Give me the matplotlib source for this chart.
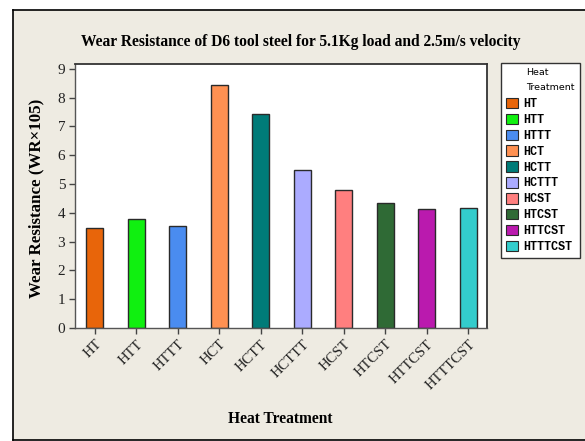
import matplotlib
matplotlib.use('Agg')
import matplotlib.pyplot as plt
from matplotlib.patches import Rectangle, Patch
from matplotlib.lines import Line2D
from matplotlib.offsetbox import HPacker, DrawingArea

# data
treatments = ['HT', 'HTT', 'HTTT', 'HCT', 'HCTT', 'HCTTT', 'HCST', 'HTCST', 'HTTCST', 'HTTTCST']
wear_res = [3.47, 3.78, 3.55, 8.43, 7.43, 5.49, 4.78, 4.34, 4.14, 4.18]
bar_colors = ['#E8650A', '#10F010', '#4A8CF0', '#FF9152', '#007B78',
              '#ABABFF', '#FF7F7F', '#2F6A35', '#BA1AAE', '#33CCCC']
y_ticks = list(range(0, 10))

W, H = 585, 441
fig = plt.figure(figsize=(W / 100, H / 100), dpi=100, facecolor='white')

# beige panel with a black frame on left / top / bottom
bg = '#EEEBE2'
fig.patches.append(Rectangle((13 / W, 1 - 440 / H), 2, (440 - 10) / H,
                             transform=fig.transFigure, facecolor=bg,
                             edgecolor='none', zorder=-5))
for xs, ys in [([13 / W, 13 / W], [1 - 440 / H, 1 - 10 / H]),
               ([13 / W, 1], [1 - 10 / H, 1 - 10 / H]),
               ([13 / W, 1], [1 - 440 / H, 1 - 440 / H])]:
    fig.add_artist(Line2D(xs, ys, transform=fig.transFigure, color='black', lw=1.2, zorder=-4))

ax = fig.add_axes([75 / W, 1 - 328 / H, (487 - 75) / W, (328 - 64) / H])
ax.set_zorder(1)
ax.set_facecolor('white')

pos = list(range(len(treatments)))
ax.bar(pos, wear_res, width=0.41, color=bar_colors, edgecolor='#2a2a2a', linewidth=1.0, zorder=2)

ax.set_xlim(-0.48, 9.45)
ax.set_ylim(0, 9.17)
ax.set_yticks(y_ticks)
ax.set_xticks(pos)

serif = 'Liberation Serif'
ax.set_yticklabels([str(t) for t in y_ticks], fontfamily=serif, fontsize=11, color='#222222')
ax.set_xticklabels(treatments, rotation=45, ha='right', va='top', rotation_mode='anchor',
                   fontfamily=serif, fontsize=10.5, color='#222222')
ax.tick_params(axis='both', direction='out', length=4, width=1, color='#444444', pad=3)

for s in ['left', 'bottom']:
    ax.spines[s].set_color('#555555')
    ax.spines[s].set_linewidth(1.0)
for s in ['top', 'right']:
    ax.spines[s].set_color('#333333')
    ax.spines[s].set_linewidth(1.3)

fig.text(301 / W, 1 - 42 / H,
         'Wear Resistance of D6 tool steel for 5.1Kg load and 2.5m/s velocity',
         ha='center', va='center', fontfamily=serif, fontweight='bold', fontsize=11.2)
fig.text(280 / W, 1 - 419 / H, 'Heat Treatment', ha='center', va='center',
         fontfamily=serif, fontweight='bold', fontsize=11.2)
fig.text(36 / W, 1 - 198 / H, 'Wear Resistance (WR\u00d7105)', ha='center', va='center',
         rotation=90, fontfamily=serif, fontweight='bold', fontsize=12.2)

# legend
handles = [Patch(facecolor=c, edgecolor='#2a2a2a', linewidth=0.8) for c in bar_colors]
leg = fig.legend(handles, treatments, loc='upper left',
                 bbox_to_anchor=(501 / W, 1 - 63 / H),
                 title='Heat\n\nTreatment', title_fontproperties={'family': 'DejaVu Sans', 'size': 6.8},
                 prop={'family': 'Liberation Mono', 'size': 8.5, 'weight': 'bold'},
                 handlelength=1.0, handleheight=1.0, handletextpad=0.45,
                 labelspacing=0.3, borderpad=0.45, borderaxespad=0,
                 frameon=True, fancybox=False, framealpha=1)
leg.get_frame().set_edgecolor('#333333')
leg.get_frame().set_linewidth(1.0)
leg._legend_box.align = 'left'
leg.get_title().set_linespacing(0.78)
# title sits indented, in line with the entry labels
leg._legend_box.sep = 4
leg._legend_box._children[0] = HPacker(children=[DrawingArea(14, 1), leg._legend_title_box],
                                       pad=0, sep=0)

fig.savefig('out.png', dpi=100, facecolor=fig.get_facecolor())
